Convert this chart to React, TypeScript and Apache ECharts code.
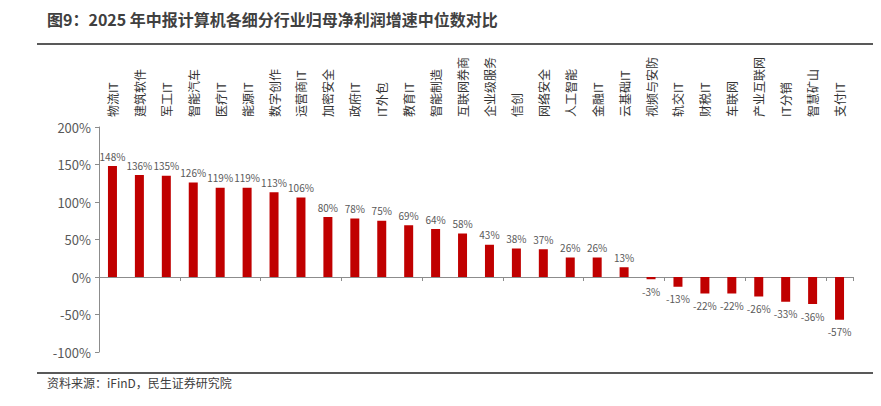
import React, { useEffect, useRef } from "react";
import * as echarts from "echarts";

const categories = [
  "物流IT", "建筑软件", "军工IT", "智能汽车", "医疗IT", "能源IT", "数字创作", "运营商IT",
  "加密安全", "政府IT", "IT外包", "教育IT", "智能制造", "互联网券商", "企业级服务", "信创",
  "网络安全", "人工智能", "金融IT", "云基础IT", "视频与安防", "轨交IT", "财税IT", "车联网",
  "产业互联网", "IT分销", "智慧矿山", "支付IT",
];
const values = [
  148, 136, 135, 126, 119, 119, 113, 106, 80, 78, 75, 69, 64, 58, 43, 38,
  37, 26, 26, 13, -3, -13, -22, -22, -26, -33, -36, -57,
];
const yMin = -100;
const yMax = 200;
const yInterval = 50;
const title = "图9：2025 年中报计算机各细分行业归母净利润增速中位数对比";
const source = "资料来源：iFinD，民生证券研究院";

const FONT = '"Microsoft YaHei", "Noto Sans CJK SC", "Noto Sans", sans-serif';

export default function App() {
  const ref = useRef<HTMLDivElement>(null);
  useEffect(() => {
    if (!ref.current) return;
    const chart = echarts.init(ref.current, undefined, { renderer: "svg" });
    chart.setOption({
      animation: false,
      textStyle: { fontFamily: FONT },
      grid: { left: 99, right: 28, top: 127, bottom: 54, containLabel: false },
      graphic: [
        {
          type: "text",
          left: 47,
          top: 11,
          style: { text: title, fill: "#404040", font: `bold 16px ${FONT}` },
        },
        {
          type: "line",
          shape: { x1: 37, y1: 44, x2: 873, y2: 44 },
          style: { stroke: "#595959", lineWidth: 2 },
        },
        {
          type: "line",
          shape: { x1: 37, y1: 373, x2: 873, y2: 373 },
          style: { stroke: "#595959", lineWidth: 2 },
        },
        {
          type: "text",
          left: 47,
          top: 376,
          style: { text: source, fill: "#404040", font: `12px ${FONT}` },
        },
      ],
      xAxis: [
        {
          type: "category",
          data: categories,
          position: "bottom",
          axisLine: { onZero: true, lineStyle: { color: "#8c8c8c", width: 1 } },
          axisTick: { show: true, length: 4, lineStyle: { color: "#8c8c8c" } },
          axisLabel: { show: false },
        },
        {
          type: "category",
          data: categories,
          position: "top",
          axisLine: { show: false, onZero: false },
          axisTick: { show: false },
          axisLabel: {
            show: true,
            rotate: -90,
            margin: 10,
            interval: 0,
            fontSize: 12,
            color: "#333333",
            fontFamily: FONT,
          },
        },
      ],
      yAxis: {
        type: "value",
        min: yMin,
        max: yMax,
        interval: yInterval,
        axisLine: { show: true, lineStyle: { color: "#8c8c8c" } },
        axisTick: { show: true, length: 4, lineStyle: { color: "#8c8c8c" } },
        splitLine: { show: false },
        axisLabel: {
          formatter: "{value}%",
          fontSize: 13,
          color: "#595959",
          margin: 8,
          fontFamily: FONT,
        },
      },
      series: [
        {
          type: "bar",
          xAxisIndex: 0,
          barWidth: 9,
          itemStyle: { color: "#C00000" },
          data: values.map((v) => ({
            value: v,
            label: { position: v < 0 ? "bottom" : "top", distance: v < 0 ? 7 : 5 },
          })),
          label: {
            show: true,
            formatter: "{c}%",
            fontSize: 10,
            color: "#595959",
            fontFamily: FONT,
          },
        },
      ],
    });
    return () => chart.dispose();
  }, []);
  return (
    <div
      ref={ref}
      style={{ position: "fixed", left: 0, top: 0, width: 881, height: 406, background: "#fff" }}
    />
  );
}
